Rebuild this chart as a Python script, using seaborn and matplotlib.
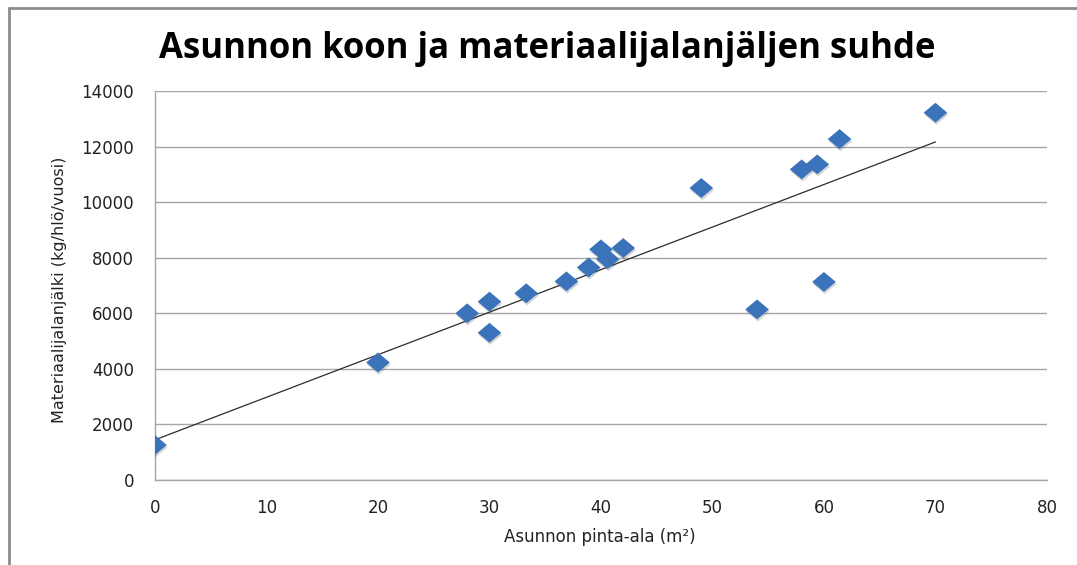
"""Scatter of apartment size vs. material footprint with a linear trend line."""

import matplotlib.pyplot as plt
import matplotlib.patheffects as pe
from matplotlib.lines import Line2D
import pandas as pd
import seaborn as sns

# apartment floor area (m2) and material footprint (kg/person/year)
area_m2 = [0, 20, 28, 30, 30, 33.3, 36.9, 38.9, 40, 40.6, 42, 49, 54, 58, 59.4, 60, 61.4, 70]
footprint = [1260, 4230, 6000, 6420, 5300, 6720, 7150, 7650, 8300, 7950, 8350,
             10510, 6140, 11180, 11360, 7130, 12270, 13220]

x_ticks = list(range(0, 81, 10))
y_ticks = list(range(0, 14001, 2000))

TITLE = "Asunnon koon ja materiaalijalanjäljen suhde"
XLABEL = "Asunnon pinta-ala (m²)"
YLABEL = "Materiaalijalanjälki (kg/hlö/vuosi)"

BLUE = "#3b73ba"
GRID = "#a6a6a6"
# slightly flattened diamond like the spreadsheet marker
DIAMOND = [(0, 0.84), (1, 0), (0, -0.84), (-1, 0), (0, 0.84)]


def main():
    df = pd.DataFrame({"area": area_m2, "footprint": footprint})

    fig = plt.figure(figsize=(10.77, 5.65), dpi=100)
    ax = fig.add_axes([0.1439, 0.1504, 0.8282, 0.6885])

    sns.regplot(
        data=df, x="area", y="footprint", ci=None, scatter=False,
        line_kws={"color": "#2b2b2b", "linewidth": 0.9}, ax=ax,
    )
    sns.scatterplot(
        data=df, x="area", y="footprint", marker=DIAMOND, s=290,
        color=BLUE, edgecolor="none", ax=ax, zorder=3,
    )
    ax.collections[-1].set_path_effects(
        [pe.SimplePatchShadow(offset=(0.6, -1.6), alpha=0.22, shadow_rgbFace="#444444"), pe.Normal()]
    )

    ax.set_xlim(0, 80)
    ax.set_ylim(0, 14000)
    ax.set_xticks(x_ticks)
    ax.set_yticks(y_ticks)
    ax.grid(axis="y", color=GRID, linewidth=1)
    ax.grid(axis="x", visible=False)
    ax.set_axisbelow(True)
    for side in ("top", "right"):
        ax.spines[side].set_visible(False)
    for side in ("left", "bottom"):
        ax.spines[side].set_color(GRID)
        ax.spines[side].set_linewidth(1)
    ax.tick_params(axis="both", length=0, labelsize=12, colors="#222222")
    ax.tick_params(axis="y", pad=15)
    ax.tick_params(axis="x", pad=14)
    ax.set_xlabel("")
    ax.set_ylabel("")

    fig.text(0.508, 0.913, TITLE, ha="center", va="center",
             fontsize=25, fontweight="bold", family="Open Sans", color="black")
    fig.text(0.557, 0.05, XLABEL, ha="center", va="center", fontsize=12, color="#222222")
    fig.text(0.0557, 0.487, YLABEL, ha="center", va="center", rotation=90,
             fontsize=11.5, color="#222222")

    # chart area frame (top and left edges visible in the crop)
    fig.add_artist(Line2D([8.5 / 1077, 8.5 / 1077], [0, 1 - 7.5 / 565],
                          transform=fig.transFigure, color="#8c8c8c", linewidth=2))
    fig.add_artist(Line2D([8.5 / 1077, 1], [1 - 7.5 / 565, 1 - 7.5 / 565],
                          transform=fig.transFigure, color="#8c8c8c", linewidth=2))

    fig.savefig("out.png", dpi=100)
    plt.close(fig)


if __name__ == "__main__":
    sns.set_theme(style="white")
    plt.rcParams["font.family"] = ["DejaVu Sans"]
    main()
